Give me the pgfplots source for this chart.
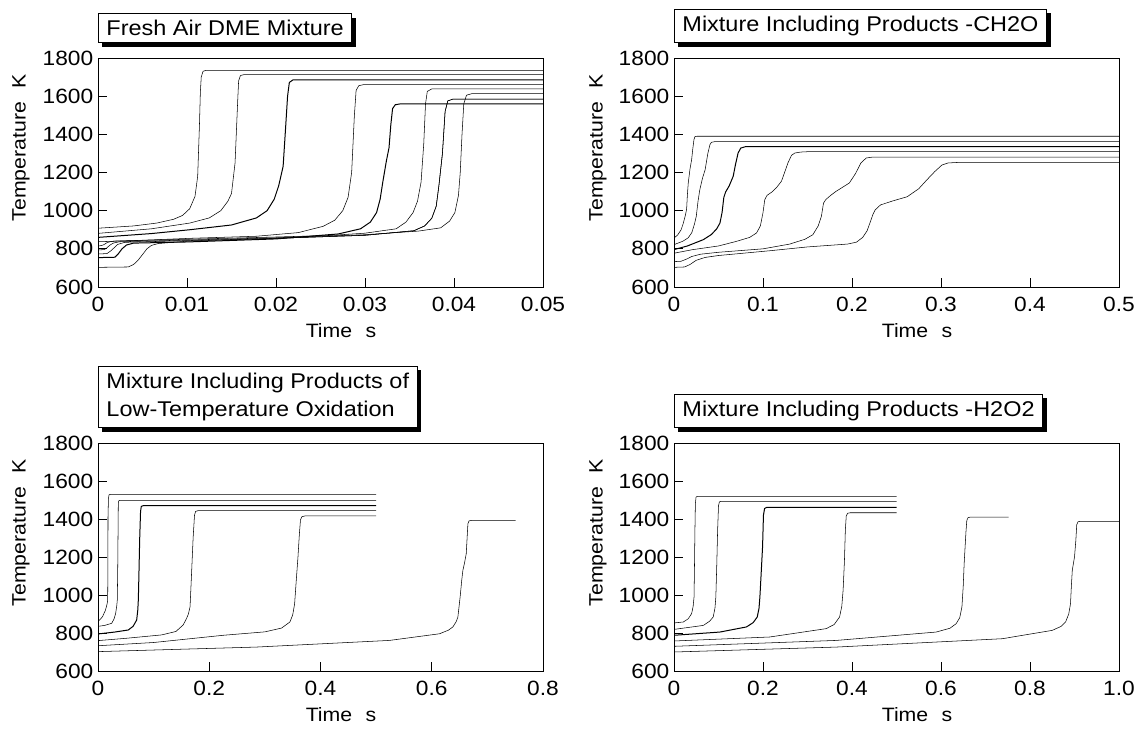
\documentclass[border=0pt]{standalone}
\usepackage{fontspec}
\setmainfont{Liberation Sans}[FakeStretch=1.1]
\usepackage{pgfplots}
\pgfplotsset{compat=1.18}
\usetikzlibrary{shadows}

\pgfplotsset{
  panel/.style={
    scale only axis, width=333.75pt, height=171.75pt, anchor=north west,
    ymin=600, ymax=1800, ytick={600,800,1000,1200,1400,1600,1800},
    yticklabels={600,800,1000,1200,1400,1600,1800},
    scaled x ticks=false, scaled y ticks=false,
    tick pos=left, tick align=inside, major tick length=7pt,
    axis line style={line width=0.7pt},
    every tick/.style={black, line width=0.7pt},
    tick label style={font=\fontsize{15.5}{15.5}\selectfont},
    xticklabel style={yshift=-4pt},
    cycle list={{black, solid, line width=0.75pt, mark=none, line join=round}},
  },
}
\tikzset{
  titlebox/.style={draw, fill=white, line width=0.7pt, inner xsep=6pt, inner ysep=5pt,
    align=left, anchor=south west, font=\fontsize{16}{21}\selectfont,
    general shadow={fill=black, shadow xshift=3pt, shadow yshift=-3pt}},
  lab/.style={font=\fontsize{14.5}{14.5}\selectfont},
}

\begin{document}
\begin{tikzpicture}
\useasboundingbox (0,0) rectangle (858pt,-548.25pt);

% ---- Fresh air
\begin{axis}[panel, at={(73.5pt,-43.5pt)}, xmin=0, xmax=0.05,
  xtick={0,0.01,0.02,0.03,0.04,0.05}, xticklabels={0,0.01,0.02,0.03,0.04,0.05}]
\addplot coordinates {(0,908) (0.004,920) (0.0066,935) (0.0085,955) (0.0095,975) (0.0103,1010) (0.0109,1075) (0.0112,1180) (0.0114,1450) (0.0115,1620) (0.0116,1700) (0.0118,1730) (0.0121,1735) (0.05,1735)};
\addplot coordinates {(0,881) (0.006,905) (0.0103,935) (0.0125,962) (0.0138,1000) (0.0146,1050) (0.015,1090) (0.0154,1250) (0.0157,1580) (0.0158,1680) (0.016,1708) (0.0164,1713) (0.05,1713)};
\addplot coordinates {(0,860) (0.006,880) (0.0103,900) (0.015,925) (0.0178,962) (0.019,1000) (0.0198,1060) (0.0203,1130) (0.0208,1232) (0.0211,1450) (0.0213,1600) (0.0215,1672) (0.0219,1685) (0.05,1685)};
\addplot coordinates {(0,837) (0.005,845) (0.0103,855) (0.0178,866) (0.0225,885) (0.0253,918) (0.0266,950) (0.0275,1000) (0.0281,1070) (0.0285,1200) (0.0288,1494) (0.029,1630) (0.0293,1655) (0.0298,1660) (0.05,1660)};
\addplot coordinates {(0,815) (0.0004,817) (0.0007,823) (0.001,832) (0.0014,838) (0.002,841) (0.01,850) (0.02,862) (0.026,870) (0.03,882) (0.0335,905) (0.0346,940) (0.0354,990) (0.0359,1050) (0.0363,1150) (0.0366,1350) (0.0368,1560) (0.037,1625) (0.0375,1638) (0.05,1638)};
\addplot coordinates {(0,794) (0.0007,796) (0.001,805) (0.0013,818) (0.0017,830) (0.0024,837) (0.01,846) (0.02,858) (0.03,874) (0.036,893) (0.0385,910) (0.0395,945) (0.0401,990) (0.0405,1080) (0.0407,1200) (0.0409,1400) (0.0411,1560) (0.0414,1605) (0.042,1613) (0.05,1613)};
\addplot coordinates {(0,773) (0.001,775) (0.0014,788) (0.0018,805) (0.0022,823) (0.003,834) (0.01,843) (0.02,855) (0.03,871) (0.0355,895) (0.0367,920) (0.0375,960) (0.038,1023) (0.0383,1130) (0.0387,1300) (0.039,1520) (0.0393,1575) (0.0399,1585) (0.05,1585)};
\addplot coordinates {(0,754) (0.0019,756) (0.0023,775) (0.0027,800) (0.0032,820) (0.004,830) (0.01,836) (0.02,852) (0.027,878) (0.0295,905) (0.0306,940) (0.0313,990) (0.0317,1060) (0.032,1150) (0.0324,1260) (0.0327,1330) (0.0329,1450) (0.0331,1535) (0.0334,1555) (0.0339,1559) (0.05,1559)};
\addplot coordinates {(0,703) (0.0034,705) (0.004,718) (0.0045,740) (0.0055,800) (0.006,818) (0.0068,828) (0.01,840) (0.02,855) (0.03,871) (0.0355,895) (0.0367,920) (0.0375,960) (0.038,1023) (0.0383,1130) (0.0387,1300) (0.039,1520) (0.0393,1575) (0.0399,1585) (0.05,1585)};
\end{axis}

% ---- CH2O
\begin{axis}[panel, at={(505.5pt,-43.5pt)}, xmin=0, xmax=0.5,
  xtick={0,0.1,0.2,0.3,0.4,0.5}, xticklabels={0,0.1,0.2,0.3,0.4,0.5}]
\addplot coordinates {(0,857) (0.004,872) (0.008,900) (0.0105,935) (0.013,980) (0.0142,1010) (0.015,1080) (0.016,1145) (0.018,1220) (0.0198,1267) (0.021,1320) (0.0224,1372) (0.0235,1388) (0.026,1390) (0.5,1390)};
\addplot coordinates {(0,822) (0.01,840) (0.016,858) (0.02,885) (0.023,930) (0.025,970) (0.027,1050) (0.029,1110) (0.032,1170) (0.035,1215) (0.038,1300) (0.0404,1346) (0.042,1358) (0.046,1362) (0.5,1362)};
\addplot coordinates {(0,796) (0.015,815) (0.0329,848) (0.042,875) (0.048,905) (0.0516,935) (0.054,990) (0.056,1070) (0.058,1098) (0.062,1130) (0.0665,1180) (0.069,1240) (0.072,1302) (0.075,1328) (0.08,1335) (0.5,1335)};
\addplot coordinates {(0,777) (0.02,795) (0.05,815) (0.07,839) (0.085,860) (0.0927,883) (0.097,920) (0.1,990) (0.102,1058) (0.1045,1080) (0.11,1098) (0.115,1120) (0.1207,1154) (0.125,1210) (0.128,1250) (0.132,1290) (0.1357,1302) (0.142,1307) (0.15,1309) (0.5,1309)};
\addplot coordinates {(0,733) (0.008,735) (0.015,748) (0.02,760) (0.03,772) (0.05,782) (0.1,800) (0.13,825) (0.147,850) (0.156,874) (0.162,920) (0.1656,970) (0.168,1040) (0.1705,1058) (0.176,1080) (0.182,1101) (0.197,1145) (0.204,1195) (0.21,1250) (0.216,1276) (0.222,1280) (0.235,1281) (0.5,1281)};
\addplot coordinates {(0,703) (0.012,705) (0.018,718) (0.025,740) (0.035,755) (0.05,765) (0.1076,790) (0.15,810) (0.195,825) (0.205,835) (0.212,860) (0.217,895) (0.22,934) (0.2235,980) (0.226,1004) (0.232,1030) (0.245,1050) (0.262,1073) (0.275,1115) (0.284,1161) (0.293,1205) (0.301,1239) (0.308,1250) (0.32,1253) (0.5,1253)};
\end{axis}

% ---- low-temperature oxidation products
\begin{axis}[panel, at={(73.5pt,-332.25pt)}, height=171pt, xmin=0, xmax=0.8,
  xtick={0,0.2,0.4,0.6,0.8}, xticklabels={0,0.2,0.4,0.6,0.8}]
\addplot coordinates {(0,860) (0.008,885) (0.0135,921) (0.0165,955) (0.0174,974) (0.0178,1150) (0.018,1412) (0.0188,1510) (0.02,1528) (0.023,1530) (0.5,1530)};
\addplot coordinates {(0,835) (0.012,840) (0.0246,851) (0.029,875) (0.0318,904) (0.0338,945) (0.0347,974) (0.0355,1150) (0.0365,1484) (0.0372,1495) (0.039,1498) (0.5,1498)};
\addplot coordinates {(0,795) (0.03,805) (0.0545,816) (0.063,835) (0.0695,868) (0.0715,920) (0.0725,974) (0.0735,1100) (0.075,1300) (0.0765,1440) (0.0778,1466) (0.081,1470) (0.5,1470)};
\addplot coordinates {(0,760) (0.05,772) (0.1145,790) (0.14,808) (0.153,842) (0.159,875) (0.1625,900) (0.1655,938) (0.168,1100) (0.171,1300) (0.1735,1420) (0.1755,1440) (0.18,1444) (0.5,1444)};
\addplot coordinates {(0,733) (0.1,750) (0.225,788) (0.3,806) (0.33,826) (0.345,858) (0.35,895) (0.3535,954) (0.3565,1080) (0.3595,1200) (0.362,1320) (0.364,1395) (0.3665,1412) (0.372,1416) (0.5,1416)};
\addplot coordinates {(0,702) (0.2846,726) (0.524,761) (0.614,796) (0.63,815) (0.638,832) (0.644,860) (0.647,884) (0.651,989) (0.654,1080) (0.656,1130) (0.659,1170) (0.662,1217) (0.665,1375) (0.667,1390) (0.672,1393) (0.751,1393)};
\end{axis}

% ---- H2O2
\begin{axis}[panel, at={(505.5pt,-332.25pt)}, height=171pt, xmin=0, xmax=1.0,
  xtick={0,0.2,0.4,0.6,0.8,1.0}, xticklabels={0,0.2,0.4,0.6,0.8,1.0}]
\addplot coordinates {(0,853) (0.021,858) (0.032,875) (0.0396,902) (0.043,940) (0.045,989) (0.046,1150) (0.047,1340) (0.048,1480) (0.0495,1515) (0.052,1519) (0.5,1519)};
\addplot coordinates {(0,819) (0.066,840) (0.08,862) (0.088,884) (0.092,930) (0.094,989) (0.096,1150) (0.098,1340) (0.1,1470) (0.102,1490) (0.106,1493) (0.5,1493)};
\addplot coordinates {(0,788) (0.103,805) (0.163,832) (0.178,855) (0.187,884) (0.191,930) (0.193,989) (0.196,1120) (0.199,1253) (0.201,1420) (0.2035,1455) (0.208,1461) (0.5,1461)};
\addplot coordinates {(0,758) (0.215,779) (0.342,823) (0.36,845) (0.372,884) (0.377,940) (0.38,1025) (0.383,1180) (0.385,1340) (0.387,1415) (0.39,1430) (0.396,1433) (0.5,1433)};
\addplot coordinates {(0,730) (0.365,761) (0.589,805) (0.62,825) (0.634,849) (0.642,880) (0.647,937) (0.65,1050) (0.652,1165) (0.656,1330) (0.658,1393) (0.661,1408) (0.667,1410) (0.752,1410)};
\addplot coordinates {(0,700) (0.365,726) (0.738,770) (0.85,814) (0.87,835) (0.88,858) (0.887,900) (0.891,954) (0.893,1050) (0.895,1130) (0.9,1200) (0.903,1288) (0.905,1370) (0.908,1386) (0.915,1388) (1.0,1388)};
\end{axis}

% titles
\node[titlebox] at (73.5pt,-32.25pt) {Fresh Air DME Mixture};
\node[titlebox] at (505.5pt,-32.25pt) {Mixture Including Products -CH2O};
\node[titlebox] at (73.5pt,-321pt) {Mixture Including Products of\\Low-Temperature Oxidation};
\node[titlebox] at (505.5pt,-321pt) {Mixture Including Products -H2O2};

% axis labels
\node[lab, rotate=90] at (15.75pt,-111pt) {Temperature\hspace{10pt}K};
\node[lab, rotate=90] at (448.5pt,-111pt) {Temperature\hspace{10pt}K};
\node[lab, rotate=90] at (15.75pt,-399.75pt) {Temperature\hspace{10pt}K};
\node[lab, rotate=90] at (448.5pt,-399.75pt) {Temperature\hspace{10pt}K};
\node[lab] at (255.75pt,-248pt) {Time\hspace{10pt}s};
\node[lab] at (687.75pt,-248pt) {Time\hspace{10pt}s};
\node[lab] at (255.75pt,-536pt) {Time\hspace{10pt}s};
\node[lab] at (687.75pt,-536pt) {Time\hspace{10pt}s};
\end{tikzpicture}
\end{document}
